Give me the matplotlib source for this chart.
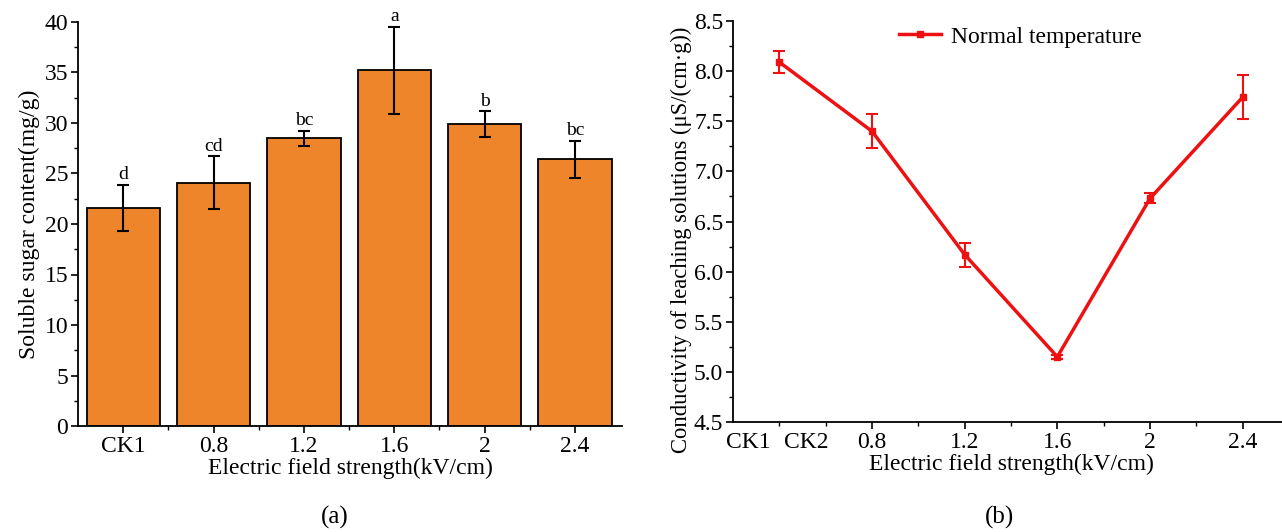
import numpy as np
import matplotlib.pyplot as plt
from matplotlib.ticker import MultipleLocator, FixedLocator
from matplotlib.lines import Line2D

plt.rcParams['font.family'] = ['Liberation Serif', 'DejaVu Serif']

# (a) soluble sugar content
groups = ['CK1', '0.8', '1.2', '1.6', '2', '2.4']
sugar = [21.6, 24.1, 28.5, 35.2, 29.9, 26.4]
sugar_err = [2.3, 2.6, 0.75, 4.35, 1.25, 1.85]
letters = ['d', 'cd', 'bc', 'a', 'b', 'bc']

# (b) conductivity of leaching solutions
field = [0.4, 0.8, 1.2, 1.6, 2.0, 2.4]
cond = [8.09, 7.40, 6.17, 5.15, 6.73, 7.74]
cond_err = [0.11, 0.17, 0.12, 0.02, 0.05, 0.22]
field_ticks = [0.8, 1.2, 1.6, 2.0, 2.4]
field_labels = ['0.8', '1.2', '1.6', '2', '2.4']

W, H = 1282, 532
fig = plt.figure(figsize=(W / 100, H / 100), dpi=100)

def box(x0, y0, x1, y1):
    # pixel box -> figure fraction
    return [x0 / W, 1 - y1 / H, (x1 - x0) / W, (y1 - y0) / H]

def style(ax):
    for s in ['top', 'right']:
        ax.spines[s].set_visible(False)
    for s in ['left', 'bottom']:
        ax.spines[s].set_linewidth(1.3)
    ax.tick_params(which='major', direction='out', length=5, width=1.2, labelsize=17, pad=2)
    ax.tick_params(which='minor', direction='out', length=3, width=1.0)

# ---- panel a ----
ax1 = fig.add_axes(box(78, 22, 622, 426))
x = np.arange(len(groups))
ax1.bar(x, sugar, width=0.81, color='#EE852B', edgecolor='black', linewidth=1.3)
ax1.errorbar(x, sugar, yerr=sugar_err, fmt='none', ecolor='black',
             elinewidth=1.5, capsize=4, capthick=1.5)
for xi, v, e, t in zip(x, sugar, sugar_err, letters):
    ax1.text(xi, v + e + 0.15, t, ha='center', va='bottom', fontsize=14)
ax1.set_xlim(-0.5, 5.52)
ax1.set_ylim(0, 40)
ax1.set_xticks(x)
ax1.set_xticklabels(groups)
ax1.xaxis.set_minor_locator(FixedLocator(x[:-1] + 0.5))
ax1.yaxis.set_major_locator(MultipleLocator(5))
ax1.yaxis.set_minor_locator(MultipleLocator(2.5))
style(ax1)
ax1.set_xlabel('Electric field strength(kV/cm)', fontsize=17, labelpad=1)
ax1.set_ylabel('Soluble sugar content(mg/g)', fontsize=17, labelpad=3)

# ---- panel b ----
red = '#EE1111'
ax2 = fig.add_axes(box(733, 21, 1289, 422))
ax2.errorbar(field, cond, yerr=cond_err, color=red, linewidth=2.5,
             marker='s', markersize=5, elinewidth=1.5, capsize=4, capthick=1.5)
ax2.set_xlim(0.2, 2.6)
ax2.set_ylim(4.5, 8.5)
ax2.set_xticks(field_ticks)
ax2.set_xticklabels(field_labels)
ax2.xaxis.set_minor_locator(FixedLocator([0.4, 0.6, 1.0, 1.4, 1.8, 2.2]))
ax2.yaxis.set_major_locator(MultipleLocator(0.5))
ax2.yaxis.set_minor_locator(MultipleLocator(0.25))
ax2.yaxis.set_major_formatter(plt.FormatStrFormatter('%.1f'))
style(ax2)
trans = ax2.get_xaxis_transform()
for xv, lab in [(0.265, 'CK1'), (0.515, 'CK2')]:
    ax2.text(xv, -0.024, lab, transform=trans, ha='center', va='top', fontsize=17)
ax2.set_xlabel('Electric field strength(kV/cm)', fontsize=17, labelpad=1)
ax2.set_ylabel('Conductivity of leaching solutions (μS/(cm·g))', fontsize=16.3)
ax2.yaxis.set_label_coords(-0.074, 0.455)
handle = Line2D([], [], color=red, linewidth=2.5, marker='s', markersize=5)
ax2.legend([handle], ['Normal temperature'], loc='upper left',
           bbox_to_anchor=(0.26, 1.04), frameon=False,
           fontsize=17, handlelength=1.8, handletextpad=0.4)

fig.text(335 / W, 1 - 517 / H, '(a)', ha='center', va='center', fontsize=18)
fig.text(1000 / W, 1 - 517 / H, '(b)', ha='center', va='center', fontsize=18)

fig.savefig('out.png', dpi=100)
